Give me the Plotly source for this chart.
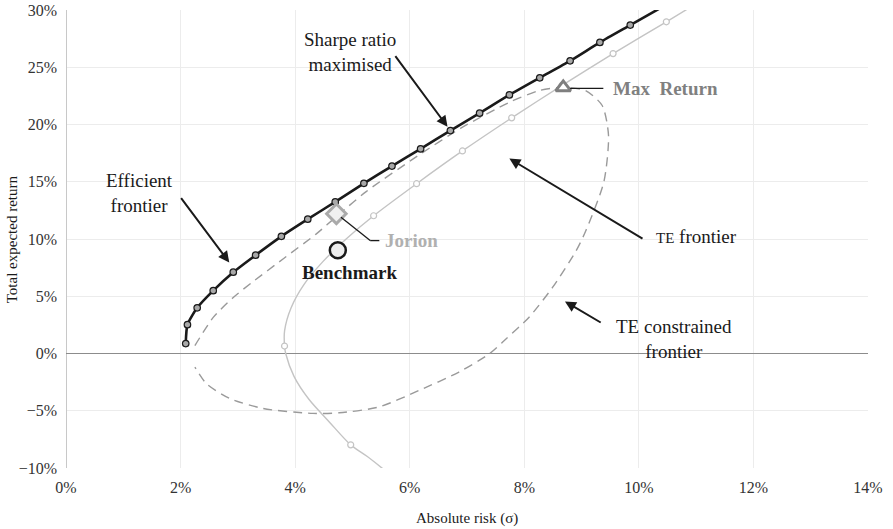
import plotly.graph_objects as go

# Efficient frontier (absolute risk %, total expected return %)
eff_risk = [2.09, 2.12, 2.29, 2.57, 2.92, 3.31, 3.76, 4.22, 4.70, 5.20, 5.69, 6.19, 6.71, 7.22, 7.74, 8.27, 8.80, 9.32, 9.85, 10.58]
eff_ret = [0.87, 2.52, 3.99, 5.49, 7.10, 8.59, 10.23, 11.73, 13.24, 14.86, 16.37, 17.87, 19.47, 20.99, 22.58, 24.08, 25.56, 27.17, 28.68, 30.75]

# TE frontier curve
te_risk = [5.64, 5.26, 4.97, 4.60, 4.24, 3.98, 3.835, 3.815, 3.816, 3.93, 4.15, 4.48, 4.89, 5.37, 6.12, 6.92, 7.78, 8.66, 9.55, 10.48, 11.15]
te_ret = [-10.5, -9.0, -7.98, -6.0, -4.0, -2.0, 0.0, 0.65, 2.0, 4.0, 6.0, 8.0, 10.0, 12.03, 14.83, 17.69, 20.58, 23.42, 26.19, 28.97, 31.0]
# TE frontier marked portfolios
te_pt_risk = [4.97, 3.815, 5.37, 6.12, 6.92, 7.78, 8.66, 9.55, 10.48]
te_pt_ret = [-7.98, 0.65, 12.03, 14.83, 17.69, 20.58, 23.42, 26.19, 28.97]

# TE constrained frontier
tec_risk = [2.25, 2.57, 2.91, 3.24, 3.80, 4.37, 4.73, 5.24, 6.14, 6.90, 7.74, 8.26, 8.66, 9.07, 9.36, 9.47, 9.39, 9.07, 8.90, 8.49, 8.08, 7.68, 7.39, 6.86, 6.17, 5.47, 4.77, 4.31, 3.44, 2.86, 2.45, 2.25]
tec_ret = [0.69, 3.15, 4.85, 6.18, 8.30, 10.45, 12.00, 14.14, 17.26, 19.70, 21.94, 22.96, 23.24, 22.96, 21.66, 19.06, 15.00, 10.67, 8.93, 5.75, 3.15, 1.27, -0.03, -1.62, -3.21, -4.66, -5.18, -5.23, -4.80, -3.93, -2.63, -1.19]

# Special portfolios
bench_risk, bench_ret = [4.745], [9.02]
jorion_risk, jorion_ret = [4.72], [12.2]
maxret_risk, maxret_ret = [8.68], [23.24]

x_ticks = [0, 2, 4, 6, 8, 10, 12, 14]
y_ticks = [-10, -5, 0, 5, 10, 15, 20, 25, 30]

FONT = "Liberation Serif"
ANN = 19

fig = go.Figure()

fig.add_trace(go.Scatter(x=tec_risk, y=tec_ret, mode="lines", line=dict(color="#9a9a9a", width=1.4, dash="9px,6px", shape="spline", smoothing=0.7), hoverinfo="skip"))
fig.add_trace(go.Scatter(x=te_risk, y=te_ret, mode="lines", line=dict(color="#c4c4c4", width=1.4, shape="spline", smoothing=0.8), hoverinfo="skip"))
fig.add_trace(go.Scatter(x=te_pt_risk, y=te_pt_ret, mode="markers", marker=dict(symbol="circle", size=6, color="white", line=dict(color="#c4c4c4", width=1.2))))
fig.add_trace(go.Scatter(x=eff_risk, y=eff_ret, mode="lines+markers", line=dict(color="#1a1a1a", width=2.6, shape="spline", smoothing=0.6), marker=dict(symbol="circle", size=6.5, color="#a8a8a8", line=dict(color="#1a1a1a", width=1.2))))
fig.add_trace(go.Scatter(x=jorion_risk, y=jorion_ret, mode="markers", marker=dict(symbol="diamond", size=15, color="#f0f0f0", line=dict(color="#aaaaaa", width=3))))
fig.add_trace(go.Scatter(x=maxret_risk, y=maxret_ret, mode="markers", marker=dict(symbol="triangle-up", size=13, color="white", line=dict(color="#7f7f7f", width=3))))
fig.add_trace(go.Scatter(x=bench_risk, y=bench_ret, mode="markers", marker=dict(symbol="circle", size=16, color="#eeeeee", line=dict(color="#1a1a1a", width=2.5))))

ann = []
def label(x, y, text, size=ANN, color="#1a1a1a", xanchor="center", bold=False):
    t = "<b>%s</b>" % text if bold else text
    ann.append(dict(x=x, y=y, xref="x", yref="y", text=t, showarrow=False, xanchor=xanchor, yanchor="middle",
                    font=dict(family=FONT, size=size, color=color)))

def arrow(x0, y0, x1, y1):
    ann.append(dict(x=x1, y=y1, ax=x0, ay=y0, xref="x", yref="y", axref="x", ayref="y", text="",
                    showarrow=True, arrowhead=2, arrowsize=1.1, arrowwidth=2, arrowcolor="#1a1a1a"))

label(4.95, 26.3, "Sharpe ratio<br>maximised")
arrow(5.73, 26.1, 6.66, 19.8)
label(1.29, 14.05, "Efficient<br>frontier")
arrow(1.99, 13.7, 2.85, 7.95)
label(5.54, 9.86, "Jorion", color="#b0b0b0", xanchor="left", bold=True)
label(4.95, 7.05, "Benchmark", bold=True)
label(9.51, 23.15, "Max  Return", color="#808080", xanchor="left", bold=True)
label(11.0, 10.23, "<span style='font-size:15px'>TE</span> frontier")
arrow(10.09, 9.95, 7.74, 17.03)
label(10.61, 1.3, "TE constrained<br>frontier")
arrow(9.36, 2.63, 8.71, 4.54)

# axis titles
ann.append(dict(x=0.5, y=-0.111, xref="paper", yref="paper", text="Absolute risk (σ)", showarrow=False,
                xanchor="center", yanchor="middle", font=dict(family=FONT, size=15, color="#1a1a1a")))
ann.append(dict(x=-0.067, y=0.5, xref="paper", yref="paper", text="Total expected return", showarrow=False,
                textangle=-90, xanchor="center", yanchor="middle", font=dict(family=FONT, size=15, color="#1a1a1a")))

shapes = [
    dict(type="line", xref="x", yref="y", x0=5.47, y0=9.86, x1=5.31, y1=9.86, line=dict(color="#1a1a1a", width=1.3)),
    dict(type="line", xref="x", yref="y", x0=5.31, y0=9.86, x1=4.80, y1=11.9, line=dict(color="#1a1a1a", width=1.3)),
    dict(type="line", xref="x", yref="y", x0=8.80, y0=23.16, x1=9.38, y1=23.16, line=dict(color="#1a1a1a", width=1.3)),
]

fig.update_layout(
    width=893, height=529,
    margin=dict(l=66, r=25, t=10, b=61),
    plot_bgcolor="white", paper_bgcolor="white",
    showlegend=False,
    font=dict(family=FONT, size=16, color="#333333"),
    annotations=ann, shapes=shapes,
    xaxis=dict(range=[0, 14], tickvals=x_ticks, ticktext=["%d%%" % v for v in x_ticks],
               showgrid=True, gridcolor="#ececec", gridwidth=1,
               zeroline=True, zerolinecolor="#c8c8c8", zerolinewidth=1,
               showline=False, ticks="", ticklabelstandoff=8, automargin=False),
    yaxis=dict(range=[-10, 30], tickvals=y_ticks, ticktext=[("\u2212%d%%" % -v) if v < 0 else "%d%%" % v for v in y_ticks],
               showgrid=True, gridcolor="#ececec", gridwidth=1,
               zeroline=True, zerolinecolor="#8c8c8c", zerolinewidth=1.3,
               showline=False, ticks="", ticklabelstandoff=8, automargin=False),
)

fig.write_html("out.html", config={"displayModeBar": False}, post_script="document.body.style.margin='0px';")
